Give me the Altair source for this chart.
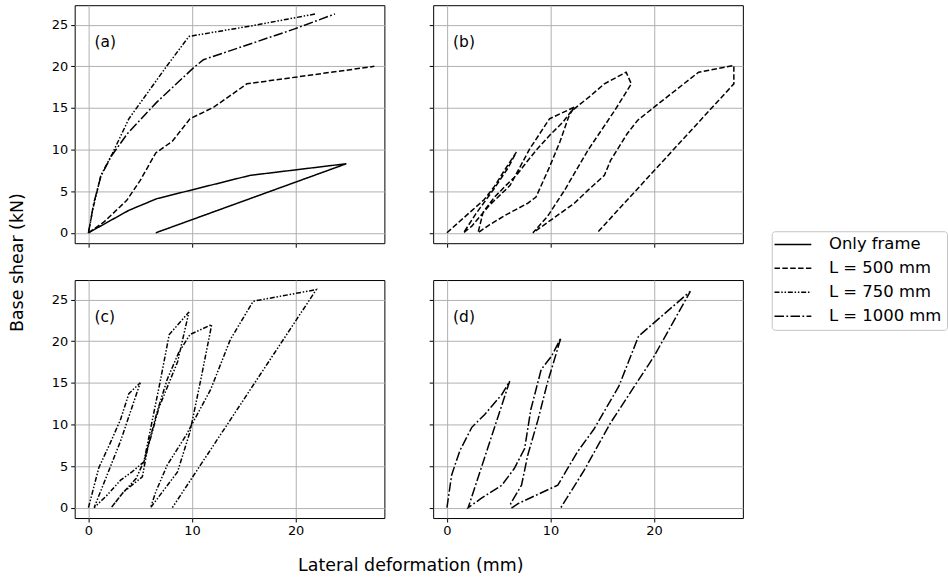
import altair as alt
import pandas as pd

SERIES = ["Only frame", "L = 500 mm", "L = 750 mm", "L = 1000 mm"]

# ---- panel (a): envelopes ----
frame_x = [0, 3.9, 6.6, 15.6, 24.9, 6.5]
frame_y = [0, 2.7, 4.1, 6.9, 8.3, 0]
env500_x = [0, 1.5, 3.7, 5.0, 6.5, 8.1, 9.8, 12.1, 15.3, 27.6]
env500_y = [0, 1.3, 3.9, 6.3, 9.6, 11.0, 13.7, 15.1, 17.9, 20.0]
env750_x = [0, 0.45, 1.2, 2.3, 3.9, 7.6, 9.7, 15.9, 21.9]
env750_y = [0, 3.0, 6.9, 9.5, 13.7, 20.1, 23.6, 24.9, 26.3]
env1000_x = [0, 0.5, 1.2, 2.2, 3.75, 6.6, 10.2, 11.1, 19.9, 23.8]
env1000_y = [0, 3.5, 6.8, 9.2, 11.9, 15.7, 19.9, 20.8, 24.5, 26.3]

# ---- panel (b): L = 500 mm hysteresis ----
hb_x = [0, 3.6, 4.6, 5.5, 6.7, 5.9, 4.5, 2.8, 1.6,
        2.4, 4.1, 6.1, 8.0, 9.9, 12.3,
        11.8, 10.9, 9.9, 8.6, 7.8, 5.7, 4.1, 3.0,
        3.5, 4.6, 5.7, 6.7, 7.7, 8.6, 9.9, 11.2, 12.0, 13.9, 15.2, 17.3, 17.8,
        16.2, 13.6, 11.35, 9.7, 8.3,
        9.1, 12.3, 13.6, 15.2, 15.8, 17.4, 18.4, 20.0, 24.3, 27.7, 27.7, 14.5]
hb_y = [0, 4.0, 5.6, 7.4, 9.7, 7.8, 5.2, 2.3, 0,
        0.8, 3.3, 5.7, 10.1, 13.7, 15.1,
        14.1, 10.9, 7.9, 4.3, 3.55, 2.15, 0.96, 0,
        2.5, 4.3, 5.7, 6.9, 8.5, 9.9, 11.7, 13.3, 14.6, 16.5, 17.9, 19.3, 17.9,
        14.7, 9.9, 5.1, 1.95, 0,
        0.7, 3.55, 5.1, 6.9, 8.7, 11.9, 13.5, 15.1, 19.3, 20.1, 17.9, 0]

# ---- panel (c): L = 750 mm hysteresis ----
hc_x = [0, 1.0, 2.15, 3.1, 3.9, 5.0, 3.1, 0.55,
        1.8, 3.1, 4.2, 5.35, 6.0, 6.9, 7.8, 9.7,
        8.6, 6.8, 5.7, 5.2, 3.4, 2.2,
        3.2, 4.6, 5.4, 6.6, 7.6, 8.7, 9.8, 11.9,
        10.8, 9.8, 8.6, 6.0,
        6.5, 7.6, 9.4, 11.8, 13.7, 15.9, 22.0, 8.1]
hc_y = [0, 4.8, 7.9, 10.6, 13.7, 15.0, 8.0, 0,
        1.5, 3.3, 4.3, 5.5, 9.5, 15.0, 20.8, 23.5,
        17.5, 12.0, 7.0, 3.7, 1.9, 0,
        1.6, 3.5, 5.7, 11.4, 15.4, 18.6, 20.8, 22.0,
        15.1, 9.1, 4.3, 0,
        1.9, 5.1, 8.65, 14.2, 20.2, 24.8, 26.2, 0]

# ---- panel (d): L = 1000 mm hysteresis ----
hd_x = [0, 0.45, 0.77, 1.25, 2.4, 3.65, 5.3, 6.06, 2.05,
        3.3, 5.3, 6.5, 7.5, 8.1, 9.1, 10.1, 11.0,
        9.7, 8.8, 7.8, 7.2, 6.15, 6.3,
        6.9, 10.7, 12.6, 14.2, 16.6, 18.5, 23.5,
        20.0, 15.8, 13.3, 11.0]
hd_y = [0, 3.9, 5.1, 6.85, 9.65, 11.2, 13.6, 15.2, 0,
        1.1, 2.7, 4.7, 7.1, 11.8, 16.6, 18.2, 20.4,
        15.0, 10.6, 6.3, 2.7, 0.5, 0,
        0.5, 2.7, 6.7, 9.45, 14.6, 20.6, 26.0,
        18.2, 10.2, 4.6, 0]

X_TICKS = [0, 10, 20]
Y_TICKS = [0, 5, 10, 15, 20, 25]
PANEL_LABELS = ["(a)", "(b)", "(c)", "(d)"]


def frame(name, xs, ys):
    return pd.DataFrame({"x": xs, "y": ys, "series": name, "order": list(range(len(xs)))})


data_a = pd.concat([frame(SERIES[0], frame_x, frame_y),
                    frame(SERIES[1], env500_x, env500_y),
                    frame(SERIES[2], env750_x, env750_y),
                    frame(SERIES[3], env1000_x, env1000_y)], ignore_index=True)
data_b = frame(SERIES[1], hb_x, hb_y)
data_c = frame(SERIES[2], hc_x, hc_y)
data_d = frame(SERIES[3], hd_x, hd_y)

W, H = 311, 239
FONT = "DejaVu Sans"

xscale = alt.Scale(domain=[-1.33, 28.57], nice=False, zero=False)
yscale = alt.Scale(domain=[-1.25, 27.35], nice=False, zero=False)
dash_scale = alt.Scale(domain=SERIES,
                       range=[[1, 0], [5.5, 2.4], [5, 1.8, 1.5, 1.8, 1.5, 1.8], [9.5, 2.4, 1.8, 2.4]])


def panel(data, label, xlab, ylab, xtitle=False, ytitle=False):
    xaxis = dict(values=X_TICKS, labels=xlab, title=None)
    yaxis = dict(values=Y_TICKS, labels=ylab, title=None)
    if xtitle:
        xaxis.update(title="Lateral deformation (mm)", titleX=337, titleY=39,
                     titleFontSize=17.5, titleFontWeight="normal", titleFont=FONT,
                     titleColor="black", titleBaseline="top")
    if ytitle:
        yaxis.update(title="Base shear (kN)", titleX=-57, titleY=258,
                     titleFontSize=17.5, titleFontWeight="normal", titleFont=FONT,
                     titleColor="black", titleAngle=-90, titleBaseline="middle")
    lines = alt.Chart(data).mark_line(color="black", strokeWidth=1.5, clip=True).encode(
        x=alt.X("x:Q", scale=xscale, axis=alt.Axis(**xaxis)),
        y=alt.Y("y:Q", scale=yscale, axis=alt.Axis(**yaxis)),
        strokeDash=alt.StrokeDash("series:N", scale=dash_scale,
                                  legend=alt.Legend(title=None)),
        order="order:Q",
    )
    txt = alt.Chart(pd.DataFrame({"t": [label]})).mark_text(
        align="left", baseline="middle", fontSize=15.5, font=FONT, color="black"
    ).encode(x=alt.value(20), y=alt.value(37), text="t:N")
    return alt.layer(lines, txt).properties(width=W, height=H)


pa = panel(data_a, PANEL_LABELS[0], False, True, ytitle=True)
pb = panel(data_b, PANEL_LABELS[1], False, False)
pc = panel(data_c, PANEL_LABELS[2], True, True, xtitle=True)
pd_ = panel(data_d, PANEL_LABELS[3], True, False)

chart = alt.concat(pa, pb, pc, pd_, columns=2,
                   spacing=alt.RowColnumber(row=37, column=49),
                   bounds="flush").properties(
    padding={"left": 8, "top": 3, "right": 0, "bottom": 2}
).configure_view(
    stroke="black", strokeWidth=1
).configure_axis(
    grid=True, gridColor="#b0b0b0", gridWidth=1, domain=False,
    tickColor="black", tickSize=4, tickWidth=1,
    labelFont=FONT, labelFontSize=13, labelColor="black", labelPadding=3,
).configure_legend(
    orient="none", legendX=700, legendY=227,
    labelFont=FONT, labelFontSize=16.5, labelColor="black",
    symbolType="M-3,0L3,0", symbolSize=152, symbolStrokeWidth=1.5,
    symbolStrokeColor="black", symbolOffset=8,
    strokeColor="#c4c4c4", strokeWidth=1, fillColor="white",
    cornerRadius=3, padding=5, rowPadding=7, labelOffset=28
)

chart.save("out.html", embed_options={"renderer": "svg", "actions": False})
